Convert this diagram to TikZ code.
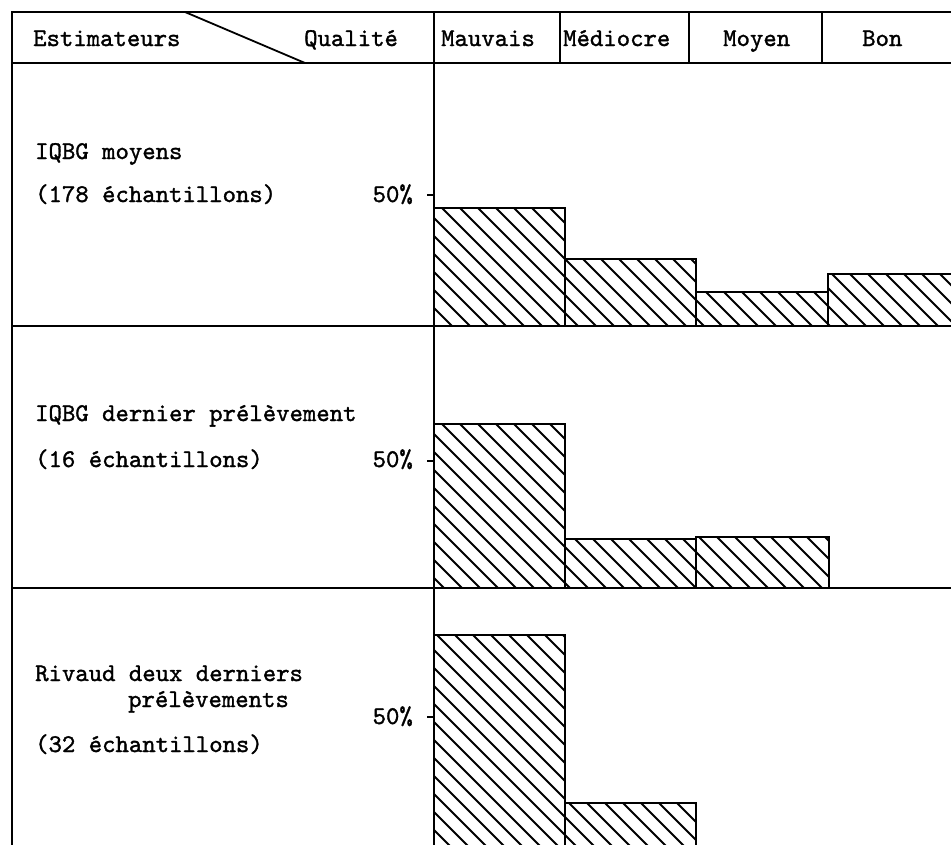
\documentclass[tikz,border=0pt]{standalone}
\usepackage{fontspec}
\newfontfamily\twfont{lmmono10-regular.otf}[FakeBold=1.3]
\newcommand\hatchbar[4]{%
  \begin{scope}
    \clip (#1,#3) rectangle (#2,#4);
    \foreach \c in {-900,-882,...,960} \draw[hatch] (\c,0) -- ++(900,900);
  \end{scope}
  \draw[barbox] (#1,#4) rectangle (#2,#3);
}
\begin{document}
\begin{tikzpicture}[x=1pt,y=-1pt,
  frame/.style={line width=2.2pt, line cap=rect},
  thin frame/.style={line width=1.8pt},
  hatch/.style={line width=2pt},
  barbox/.style={line width=2.4pt},
  lbl/.style={font=\twfont\fontsize{25.5}{28}\selectfont, inner sep=0pt, anchor=base west},
  pct/.style={lbl, anchor=base east},
  tick/.style={line width=1.6pt}]
\clip (0,0) rectangle (951,844);
\fill[white] (0,0) rectangle (951,844);

% bars panel 1
\hatchbar{434}{565}{208}{326}
\hatchbar{565}{696}{259}{326}
\hatchbar{696}{828}{292}{326}
\hatchbar{828}{960}{274}{326}
% bars panel 2
\hatchbar{434}{565}{424}{588}
\hatchbar{565}{696}{539}{588}
\hatchbar{696}{829}{537}{588}
% bars panel 3
\hatchbar{434}{565}{635}{852}
\hatchbar{565}{696}{803}{852}

% table frame
\draw[frame] (12,844) -- (12,12) -- (951,12);
\draw[frame] (12,63) -- (951,63);
\draw[frame] (12,326) -- (951,326);
\draw[frame] (12,588) -- (951,588);
\draw[frame] (434,12) -- (434,844);
\draw[thin frame] (560,12) -- (560,63);
\draw[thin frame] (689,12) -- (689,63);
\draw[thin frame] (822,12) -- (822,63);
\draw[thin frame] (185,12) -- (305,63);

% 50% ticks
\draw[tick] (427,195) -- (434,195);
\draw[tick] (427,461) -- (434,461);
\draw[tick] (427,717) -- (434,717);

% header texts
\node[lbl] (est) at (33,46) {Estimateurs};
\node[lbl] (qual) at (304,46) {Qualité};
\node[lbl] (mauv) at (441,46) {Mauvais};
\node[lbl] (medi) at (563,46) {Médiocre};
\node[lbl] (moy) at (723,46) {Moyen};
\node[lbl] (bon) at (862,46) {Bon};

% row labels
\node[lbl] (r1a) at (35,159) {IQBG moyens};
\node[lbl] (r1b) at (35,202) {(178 échantillons)};
\node[pct] (p1) at (413,202) {50\%};

\node[lbl] (r2a) at (35,421) {IQBG dernier prélèvement};
\node[lbl] (r2b) at (35,467) {(16 échantillons)};
\node[pct] (p2) at (413,467) {50\%};

\node[lbl] (r3a) at (35,681) {Rivaud deux derniers};
\node[lbl] (r3b) at (128,707) {prélèvements};
\node[lbl] (r3c) at (35,752) {(32 échantillons)};
\node[pct] (p3) at (413,724) {50\%};
\end{tikzpicture}
\end{document}
